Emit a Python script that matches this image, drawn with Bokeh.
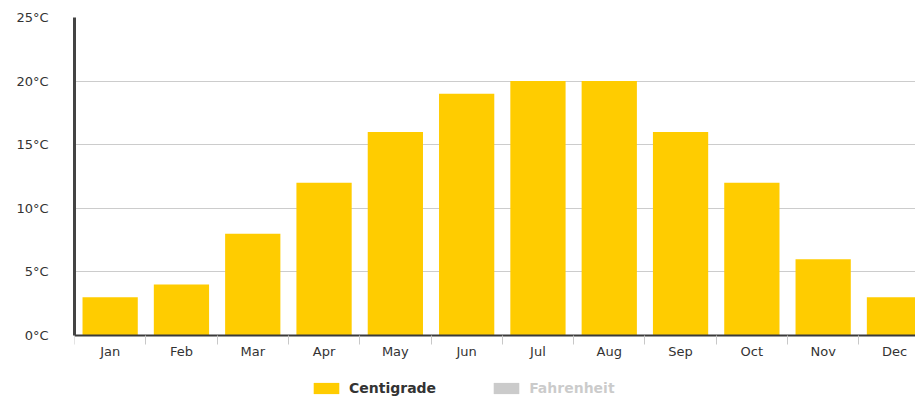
from bokeh.plotting import figure
from bokeh.models import (Range1d, FixedTicker, PrintfTickFormatter, Legend, LegendItem,
                          ColumnDataSource)
from bokeh.embed import file_html
from bokeh.resources import INLINE

months = ["Jan", "Feb", "Mar", "Apr", "May", "Jun", "Jul", "Aug", "Sep", "Oct", "Nov", "Dec"]
centigrade = [3, 4, 8, 12, 16, 19, 20, 20, 16, 12, 6, 3]
fahrenheit = [37, 39, 46, 54, 61, 66, 68, 68, 61, 54, 43, 37]
y_ticks = [0, 5, 10, 15, 20, 25]

xs = list(range(len(months)))
src = ColumnDataSource(dict(x=xs, c=centigrade, f=fahrenheit))

FONT = "DejaVu Sans"

# frame reaches the bottom of the figure; the x axis sits at y = 0 inside it
p = figure(width=915, height=396, output_backend="svg", toolbar_location=None,
           x_range=Range1d(-0.5, 11.295), y_range=Range1d(-4.796, 25),
           min_border_left=74, min_border_right=0, min_border_top=17, min_border_bottom=0)
p.outline_line_color = None
p.background_fill_color = "white"
p.border_fill_color = "white"

r_c = p.vbar(x="x", top="c", width=0.775, source=src, fill_color="#FFCC00", line_color=None)
r_f = p.vbar(x="x", top="f", width=0.775, source=src, fill_color="#333333", line_color=None)
r_f.visible = False

# x axis
xa = p.xaxis[0]
xa.fixed_location = 0
xa.ticker = FixedTicker(ticks=xs, minor_ticks=[i - 0.5 for i in range(len(months) + 1)])
xa.major_label_overrides = {i: m for i, m in zip(xs, months)}
xa.major_tick_line_color = None
xa.major_tick_out = 0
xa.major_tick_in = 0
xa.minor_tick_line_color = "#c8c8c8"
xa.minor_tick_out = 9
xa.minor_tick_in = 0
xa.axis_line_color = "#3a3a3a"
xa.axis_line_width = 2
xa.major_label_standoff = 0
xa.major_label_text_font = FONT
xa.major_label_text_font_size = "13px"
xa.major_label_text_color = "#333333"

# y axis
ya = p.yaxis[0]
ya.bounds = (min(y_ticks), max(y_ticks))
ya.ticker = FixedTicker(ticks=y_ticks)
ya.formatter = PrintfTickFormatter(format="%d°C")
ya.major_tick_line_color = None
ya.minor_tick_line_color = None
ya.major_tick_out = 0
ya.major_tick_in = 0
ya.axis_line_color = "#444444"
ya.axis_line_width = 3
ya.major_label_standoff = 26
ya.major_label_text_font = FONT
ya.major_label_text_font_size = "13px"
ya.major_label_text_color = "#333333"

p.xgrid.grid_line_color = None
p.ygrid.grid_line_color = "#cccccc"
p.ygrid.ticker = FixedTicker(ticks=y_ticks)

legend = Legend(items=[LegendItem(label="Centigrade", renderers=[r_c]),
                       LegendItem(label="Fahrenheit", renderers=[r_f])],
                orientation="horizontal", location=(236, 0),
                click_policy="hide", inactive_fill_color="white", inactive_fill_alpha=0.75,
                glyph_width=32, glyph_height=14, label_height=13,
                label_standoff=7, spacing=54, margin=0, padding=0,
                border_line_color=None, background_fill_alpha=0,
                label_text_font=FONT, label_text_font_size="14px",
                label_text_font_style="bold", label_text_color="#333333")
p.add_layout(legend, "center")

open("out.html", "w").write(file_html(p, INLINE))
